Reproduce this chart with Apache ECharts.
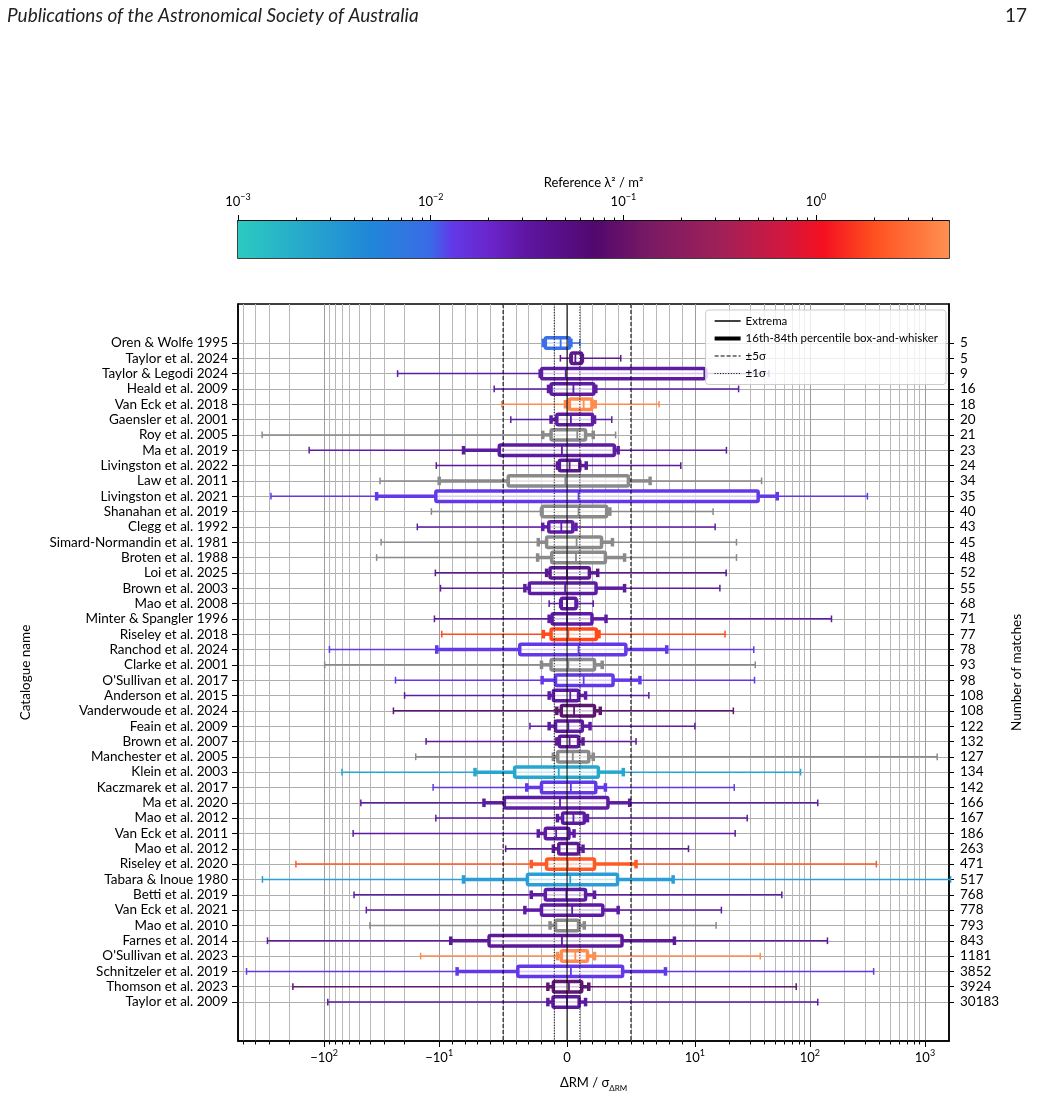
<!DOCTYPE html>
<html>
<head>
<meta charset="utf-8">
<script src="https://cdn.jsdelivr.net/npm/echarts@6/dist/echarts.min.js"></script>
<style>
html, body { margin: 0; padding: 0; background: #fff; }
#chart { width: 1038px; height: 1095px; }
</style>
</head>
<body>
<div id="chart"></div>
<script>
var catalogues = ['Oren & Wolfe 1995', 'Taylor et al. 2024', 'Taylor & Legodi 2024', 'Heald et al. 2009', 'Van Eck et al. 2018',
  'Gaensler et al. 2001', 'Roy et al. 2005', 'Ma et al. 2019', 'Livingston et al. 2022', 'Law et al. 2011',
  'Livingston et al. 2021', 'Shanahan et al. 2019', 'Clegg et al. 1992', 'Simard-Normandin et al. 1981', 'Broten et al. 1988',
  'Loi et al. 2025', 'Brown et al. 2003', 'Mao et al. 2008', 'Minter & Spangler 1996', 'Riseley et al. 2018',
  'Ranchod et al. 2024', 'Clarke et al. 2001', "O'Sullivan et al. 2017", 'Anderson et al. 2015', 'Vanderwoude et al. 2024',
  'Feain et al. 2009', 'Brown et al. 2007', 'Manchester et al. 2005', 'Klein et al. 2003', 'Kaczmarek et al. 2017',
  'Ma et al. 2020', 'Mao et al. 2012', 'Van Eck et al. 2011', 'Mao et al. 2012', 'Riseley et al. 2020',
  'Tabara & Inoue 1980', 'Betti et al. 2019', 'Van Eck et al. 2021', 'Mao et al. 2010', 'Farnes et al. 2014',
  "O'Sullivan et al. 2023", 'Schnitzeler et al. 2019', 'Thomson et al. 2023', 'Taylor et al. 2009'];
var matches = [5, 5, 9, 16, 18, 20, 21, 23, 24, 34, 35, 40, 43, 45, 48, 52, 55, 68, 71, 77, 78, 93, 98, 108, 108, 122,
  132, 127, 134, 142, 166, 167, 186, 263, 471, 517, 768, 778, 793, 843, 1181, 3852, 3924, 30183];

// dRM / sigma statistics per catalogue
var extMin = [-1.9, -0.52, -23, -5.7, -5.1, -4.4, -346, -135, -10.6, -32.7, -290, -11.7, -15.5, -32, -35, -10.8, -9.9, -1.4,
  -11, -9.8, -90, -99, -24, -20, -25, -2.9, -13, -16, -70, -11.3, -48, -10.7, -56, -4.8, -176, -344, -55, -43, -40, -311,
  -14.5, -473, -187, -93];
var pct16 = [-1.85, 0.3, -2.1, -1.45, -0.13, -1.25, -1.9, -8.1, -0.75, -10, -35, -2.0, -1.9, -2.25, -2.3, -1.6, -3.3, -0.5,
  -1.4, -1.85, -10.5, -2.0, -1.95, -1.4, -0.8, -1.4, -0.8, -1.07, -7.2, -3.15, -6.5, -0.75, -2.25, -1.07, -2.8, -8.1, -2.8,
  -3.3, -1.33, -9.1, -0.75, -8.6, -1.5, -1.5];
var quart1 = [-1.7, 0.33, -2.0, -1.25, 0.18, -0.8, -1.25, -5.3, -0.6, -4.6, -10.7, -1.95, -1.43, -1.6, -1.2, -1.33, -2.95,
  -0.45, -1.17, -1.25, -3.7, -1.25, -0.9, -1.07, -0.45, -0.9, -0.6, -0.73, -4.1, -2.0, -4.9, -0.35, -1.7, -0.65, -1.6, -3.1,
  -1.7, -2.0, -0.9, -6.1, -0.45, -3.85, -1.07, -1.1];
var median = [-0.5, 0.65, -0.1, 0.5, 1.3, 0.3, 0.8, -0.4, 0.2, -0.13, 0.9, 0.9, -0.45, 0.75, 0.7, 0.0, -0.15, 0.0, 0.0, 0.1,
  0.9, 0.1, 1.3, 0.25, 0.55, 0.1, 0.2, 0.45, -0.65, 0.3, -0.55, 0.5, -0.85, 0.0, 0.05, 0.25, -0.05, 0.4, 0.0, -0.4, 0.65,
  0.3, 0.15, 0.0];
var quart3 = [0.2, 1.15, 12.3, 2.1, 1.95, 2.0, 1.45, 3.7, 1.0, 4.8, 35.5, 3.1, 0.45, 2.7, 3.0, 1.75, 2.27, 0.7, 1.95, 2.3,
  4.6, 2.15, 3.6, 0.9, 2.15, 1.2, 0.9, 1.7, 2.45, 2.25, 3.2, 1.35, 0.15, 0.9, 2.15, 3.95, 1.45, 2.8, 0.9, 4.3, 1.6, 4.35,
  1.15, 0.95];
var pct84 = [0.3, 1.2, 12.5, 2.25, 2.2, 2.15, 2.05, 4.0, 1.5, 6.5, 52, 3.35, 0.7, 3.55, 4.5, 2.4, 4.5, 0.75, 3.05, 2.5,
  7.8, 2.75, 5.7, 1.45, 2.6, 1.8, 1.25, 2.05, 4.4, 3.0, 4.9, 1.6, 0.55, 1.25, 5.4, 8.3, 2.15, 4.0, 1.35, 8.4, 2.15, 7.7,
  1.7, 1.45];
var extMax = [1.0, 4.2, 44, 24, 7.2, 3.5, 3.8, 18.8, 8.9, 38, 316, 14.4, 15, 23, 23, 18.7, 16.5, 2.05, 154, 18.3, 32.5,
  33.5, 33, 6.4, 21.6, 10, 5.4, 1277, 83, 22, 117, 28.5, 22.4, 9.5, 378, 1670, 57, 17, 15.3, 142, 37, 358, 76, 117];

var refLines = [-5, 5, -1, 1, 0];
var xMajorTicks = [-100, -10, 0, 10, 100, 1000];
var lambdaRange = [0.001, 4.9];

// colours (from the lambda^2 colour bar), grey = no reference
var PUR = '#5e1ca2', VIO = '#6338e8', GRY = '#8a8a8a';
var rowColors = ['#3a6fe8', '#5a1a8c', PUR, PUR, '#ff8a4a', PUR, GRY, PUR, '#5a1a96', GRY,
  VIO, GRY, '#601caa', GRY, GRY, '#5a1890', PUR, PUR, '#5e1aa6', '#ff4a1c',
  VIO, GRY, VIO, '#5e1ca6', '#5c1670', PUR, '#5c1a98', GRY, '#25a8d0', VIO,
  PUR, '#5e1aa6', '#5e1aa4', '#5c1a96', '#ff5a24', '#2a9ed6', PUR, '#5e1aa6', GRY, '#5c1a98',
  '#ff8c50', VIO, '#5e1870', '#5c1aa0'];
var cmapStops = [[0.001, '#2ccac0'], [0.0049, '#2086d8'], [0.01, '#3b6ae8'], [0.013, '#6338e8'], [0.021, '#6a24c8'],
  [0.032, '#5e15a0'], [0.071, '#52086e'], [0.138, '#7a1a64'], [0.32, '#a02058'], [0.66, '#d01840'], [1.1, '#f51020'],
  [2.0, '#ff5020'], [4.9, '#ff9050']];

// matplotlib symlog, linthresh 10, linscale 1
var LT = 10, LADJ = 1 / (1 - 1 / 10);
function symlog(v) {
  var a = Math.abs(v);
  if (a <= LT) return v * LADJ;
  return Math.sign(v) * LT * (LADJ + Math.log10(a / LT));
}

var FONT = 'Lato';
var xMin = -28.6, xMax = 33.2;
var yMin = -2.54, yMax = catalogues.length - 1 + 2.54;
var rowIdx = catalogues.map(function (c, i) { return i; });

var xMinor = [];
[1, 10, 100].forEach(function (d) {
  for (var k = (d === 1 ? 1 : 2); k <= 9; k++) {
    var v = k * d;
    if (v === 10) continue;
    [v, -v].forEach(function (s) {
      var t = symlog(s);
      if (t > xMin && t < xMax) xMinor.push(t);
    });
  }
});

var cbLo = Math.log10(lambdaRange[0]), cbHi = Math.log10(lambdaRange[1]);
var cbMajor = [-3, -2, -1, 0];
var cbMinor = [];
cbMajor.forEach(function (e) {
  for (var k = 2; k <= 9; k++) {
    var t = e + Math.log10(k);
    if (t < cbHi) cbMinor.push(t);
  }
});
var gradStops = cmapStops.map(function (s) {
  return { offset: (Math.log10(s[0]) - cbLo) / (cbHi - cbLo), color: s[1] };
});

function powLabel(v) {
  if (v === 0) return '{b|0}';
  var e = Math.round(Math.log10(Math.abs(v)));
  return '{b|' + (v < 0 ? '\u2212' : '') + '10}{e|' + (e < 0 ? '\u2212' : '') + Math.abs(e) + '}';
}
var richPow = {
  b: { fontFamily: FONT, fontSize: 13, color: '#000', lineHeight: 18 },
  e: { fontFamily: FONT, fontSize: 9, color: '#000', lineHeight: 12, verticalAlign: 'top' }
};

var boxData = rowIdx.map(function (i) {
  return [i, symlog(extMin[i]), symlog(pct16[i]), symlog(quart1[i]), symlog(median[i]),
    symlog(quart3[i]), symlog(pct84[i]), symlog(extMax[i])];
});

function renderBox(params, api) {
  var row = api.value(0);
  var y = api.coord([0, row])[1];
  var band = Math.abs(api.size([0, 1])[1]);
  var x = [];
  for (var i = 1; i <= 7; i++) x.push(api.coord([api.value(i), row])[0]);
  var c = rowColors[params.dataIndex];
  var hb = band * 0.34, hc = band * 0.28, he = band * 0.22;
  function seg(x1, y1, x2, y2, w) {
    return { type: 'line', shape: { x1: x1, y1: y1, x2: x2, y2: y2 }, style: { stroke: c, lineWidth: w } };
  }
  return {
    type: 'group',
    children: [
      seg(x[0], y, x[6], y, 1.5),
      seg(x[0], y - he, x[0], y + he, 1.5),
      seg(x[6], y - he, x[6], y + he, 1.5),
      seg(x[1], y, x[2], y, 3.5),
      seg(x[4], y, x[5], y, 3.5),
      seg(x[1], y - hc, x[1], y + hc, 3.5),
      seg(x[5], y - hc, x[5], y + hc, 3.5),
      { type: 'rect', shape: { x: x[2], y: y - hb, width: x[4] - x[2], height: 2 * hb, r: 1.5 },
        style: { fill: 'rgba(255,255,255,0.75)', stroke: c, lineWidth: 3.5, lineJoin: 'round' } },
      seg(x[3], y - hb, x[3], y + hb, 1.8)
    ]
  };
}

function renderRef(params, api) {
  var v = refLines[params.dataIndex];
  var cs = params.coordSys;
  var x = api.coord([api.value(0), 0])[0];
  var dash = Math.abs(v) === 5 ? [4, 2] : (Math.abs(v) === 1 ? [1, 1.7] : null);
  return {
    type: 'line',
    shape: { x1: x, y1: cs.y, x2: x, y2: cs.y + cs.height },
    style: { stroke: '#000', lineWidth: 1, lineDash: dash }
  };
}

function renderBar(params, api) {
  var p0 = api.coord([api.value(0), 1]);
  var p1 = api.coord([api.value(1), 0]);
  return {
    type: 'rect',
    shape: { x: p0[0], y: p0[1], width: p1[0] - p0[0], height: p1[1] - p0[1] },
    style: { fill: new echarts.graphic.LinearGradient(0, 0, 1, 0, gradStops) }
  };
}

var myChart = echarts.init(document.getElementById('chart'));
var blackLine = { show: true, onZero: false, lineStyle: { color: '#000', width: 1.5 } };
var noLine = { show: false, onZero: false };

var option = {
  animation: false,
  backgroundColor: '#fff',
  textStyle: { fontFamily: FONT },
  title: [
    { text: 'Publications of the Astronomical Society of Australia', left: 2, top: 1,
      textStyle: { fontFamily: FONT, fontStyle: 'italic', fontWeight: 'normal', fontSize: 19, color: '#222' } },
    { text: '17', right: 6, top: 1,
      textStyle: { fontFamily: FONT, fontWeight: 'normal', fontSize: 19, color: '#222' } }
  ],
  legend: {
    orient: 'vertical', right: 92, top: 310, z: 10,
    itemWidth: 26, itemHeight: 12, itemGap: 5.5,
    padding: [5, 8, 5, 7],
    backgroundColor: 'rgba(255,255,255,0.8)', borderColor: '#cccccc', borderWidth: 1, borderRadius: 3,
    textStyle: { fontFamily: FONT, fontSize: 11.5, color: '#000' },
    lineStyle: { width: 'inherit' },
    data: ['Extrema', '16th-84th percentile box-and-whisker', '\u00b15\u03c3', '\u00b11\u03c3']
  },
  grid: [
    { left: 238, width: 711, top: 221, height: 37, show: true, borderColor: '#000', borderWidth: 1.5,
      containLabel: false, outerBoundsMode: 'none' },
    { left: 238, width: 711, top: 304, height: 737, show: true, borderColor: '#000', borderWidth: 1.5,
      containLabel: false, outerBoundsMode: 'none' }
  ],
  xAxis: [
    { gridIndex: 0, type: 'value', position: 'top', min: cbLo, max: cbHi,
      axisLine: blackLine,
      axisTick: { customValues: cbMajor, length: 6, lineStyle: { color: '#000' } },
      axisLabel: { customValues: cbMajor, margin: 10, formatter: function (v) { return powLabel(Math.pow(10, v)); }, rich: richPow },
      splitLine: { show: false },
      name: 'Reference \u03bb\u00b2 / m\u00b2', nameLocation: 'middle', nameGap: 32,
      nameTextStyle: { fontFamily: FONT, fontSize: 13, color: '#000' } },
    { gridIndex: 0, type: 'value', position: 'top', min: cbLo, max: cbHi,
      axisLine: noLine,
      axisTick: { customValues: cbMinor, length: 3.5, lineStyle: { color: '#000' } },
      axisLabel: { show: false }, splitLine: { show: false } },
    { gridIndex: 1, type: 'value', position: 'bottom', min: xMin, max: xMax,
      axisLine: blackLine,
      axisTick: { customValues: xMajorTicks.map(symlog), length: 6, lineStyle: { color: '#000' } },
      axisLabel: { customValues: xMajorTicks.map(symlog), margin: 8, rich: richPow,
        formatter: function (t) {
          for (var i = 0; i < xMajorTicks.length; i++) {
            if (Math.abs(symlog(xMajorTicks[i]) - t) < 1e-6) return powLabel(xMajorTicks[i]);
          }
          return '';
        } },
      splitLine: { show: true, lineStyle: { color: '#9c9c9c', width: 1 } },
      name: '{n|\u0394RM / \u03c3}{s|\u0394RM}', nameLocation: 'middle', nameGap: 33,
      nameTextStyle: { rich: {
        n: { fontFamily: FONT, fontSize: 13, color: '#000', lineHeight: 18 },
        s: { fontFamily: FONT, fontSize: 8, color: '#000', lineHeight: 10, verticalAlign: 'bottom' } } } },
    { gridIndex: 1, type: 'value', position: 'bottom', min: xMin, max: xMax,
      axisLine: noLine,
      axisTick: { customValues: xMinor, length: 3.5, lineStyle: { color: '#000' } },
      axisLabel: { show: false },
      splitLine: { show: true, lineStyle: { color: '#b8b8b8', width: 1 } } }
  ],
  yAxis: [
    { gridIndex: 0, type: 'value', min: 0, max: 1, show: false, axisLine: noLine },
    { gridIndex: 1, type: 'value', position: 'left', inverse: true, min: yMin, max: yMax,
      axisLine: blackLine,
      axisTick: { customValues: rowIdx, length: 6, lineStyle: { color: '#000' } },
      axisLabel: { customValues: rowIdx, margin: 10, fontFamily: FONT, fontSize: 13.5, color: '#000',
        formatter: function (v) { return catalogues[v]; } },
      splitLine: { show: true, lineStyle: { color: '#acacac', width: 1 } },
      name: 'Catalogue name', nameLocation: 'middle', nameRotate: 90, nameGap: 205,
      nameTextStyle: { fontFamily: FONT, fontSize: 13.5, color: '#000' } },
    { gridIndex: 1, type: 'value', position: 'right', inverse: true, min: yMin, max: yMax,
      axisLine: blackLine,
      axisTick: { customValues: rowIdx, length: 5, lineStyle: { color: '#000' } },
      axisLabel: { customValues: rowIdx, margin: 11, fontFamily: FONT, fontSize: 13.5, color: '#000',
        formatter: function (v) { return String(matches[v]); } },
      splitLine: { show: false },
      name: 'Number of matches', nameLocation: 'middle', nameRotate: 90, nameGap: 56,
      nameTextStyle: { fontFamily: FONT, fontSize: 13.5, color: '#000' } }
  ],
  series: [
    { type: 'custom', name: 'colourbar', xAxisIndex: 0, yAxisIndex: 0, renderItem: renderBar,
      data: [[cbLo, cbHi]], encode: { x: [0, 1] }, silent: true },
    { type: 'custom', name: 'boxes', xAxisIndex: 2, yAxisIndex: 1, renderItem: renderBox, z: 3,
      data: boxData, encode: { x: [1, 2, 3, 4, 5, 6, 7], y: 0 }, silent: true },
    { type: 'custom', name: 'ref', xAxisIndex: 2, yAxisIndex: 1, renderItem: renderRef, z: 4,
      data: refLines.map(function (v) { return [symlog(v)]; }), encode: { x: 0 }, silent: true },
    { type: 'line', name: 'Extrema', xAxisIndex: 2, yAxisIndex: 1, data: [], symbol: 'none',
      itemStyle: { color: 'rgba(0,0,0,0)' }, lineStyle: { color: '#000', width: 1.5 } },
    { type: 'line', name: '16th-84th percentile box-and-whisker', xAxisIndex: 2, yAxisIndex: 1, data: [], symbol: 'none',
      itemStyle: { color: 'rgba(0,0,0,0)' }, lineStyle: { color: '#000', width: 4 } },
    { type: 'line', name: '\u00b15\u03c3', xAxisIndex: 2, yAxisIndex: 1, data: [], symbol: 'none',
      itemStyle: { color: 'rgba(0,0,0,0)' }, lineStyle: { color: '#000', width: 1, type: [4, 2] } },
    { type: 'line', name: '\u00b11\u03c3', xAxisIndex: 2, yAxisIndex: 1, data: [], symbol: 'none',
      itemStyle: { color: 'rgba(0,0,0,0)' }, lineStyle: { color: '#000', width: 1, type: [1, 1.7] } }
  ]
};
myChart.setOption(option);
</script>
</body>
</html>
